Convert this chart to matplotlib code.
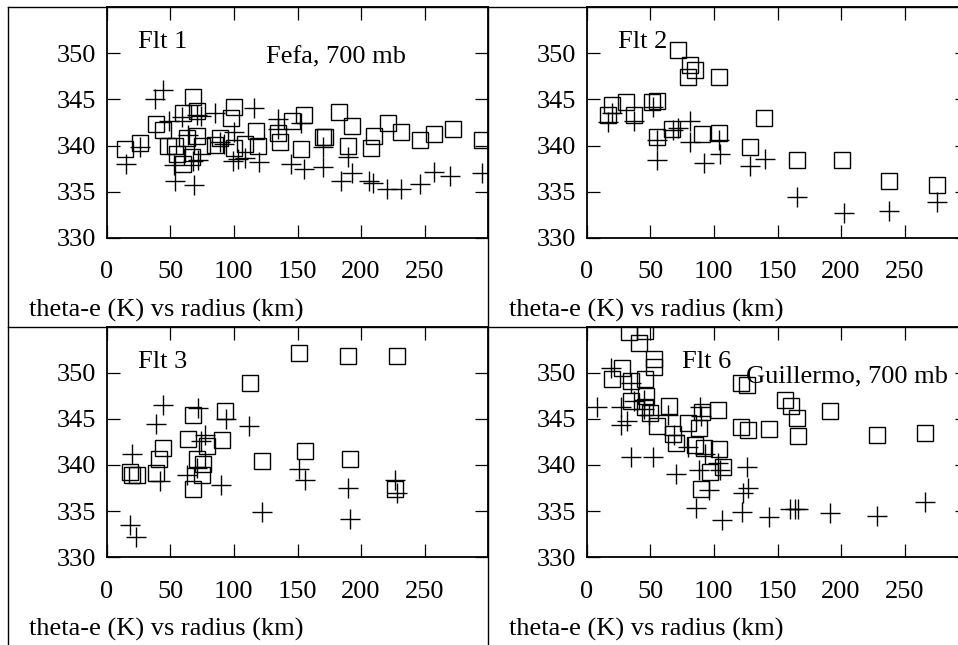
import matplotlib
matplotlib.use("Agg")
import matplotlib.pyplot as plt
from matplotlib.lines import Line2D

plt.rcParams["font.family"] = ["Liberation Serif", "DejaVu Serif"]

# theta-e (K) vs radius (km); "sq" = square markers, "pl" = plus markers
flt1_sq_r = [14, 26, 39, 44, 48, 54, 55, 60, 60, 68, 63, 67, 71, 71, 75, 85, 89, 100, 98, 100,
             109, 117, 119, 135, 136, 146, 155, 153, 170, 172, 183, 193, 190, 208, 210, 221,
             231, 246, 257, 272, 295]
flt1_sq_te = [339.6, 340.3, 342.3, 341.7, 340.0, 340.0, 339.1, 338.0, 343.5, 345.3, 340.8, 338.8,
              343.8, 341.0, 340.0, 340.1, 340.8, 344.2, 343.0, 339.7, 340.2, 341.6, 340.0, 341.4,
              340.4, 342.7, 343.3, 339.6, 340.9, 340.9, 343.6, 342.1, 340.0, 339.7, 341.0, 342.4,
              341.5, 340.6, 341.2, 341.8, 340.6]
flt1_pl_r = [15, 26, 38, 44, 54, 53, 49, 59, 71, 74, 69, 68, 72, 85, 89, 100, 99, 103, 109, 116,
             120, 135, 135, 145, 153, 155, 170, 170, 184, 190, 193, 206, 209, 220, 231, 246,
             257, 270, 295, 64, 92]
flt1_pl_te = [338.0, 339.8, 345.1, 346.0, 336.1, 337.9, 342.7, 343.1, 343.3, 343.2, 335.7, 338.3,
              338.4, 343.5, 340.4, 341.5, 338.3, 338.5, 338.7, 344.1, 338.2, 342.9, 341.8, 338.0,
              342.4, 337.5, 339.8, 337.7, 336.2, 338.8, 337.0, 336.2, 335.9, 335.3, 335.3, 335.8,
              337.1, 336.7, 337.0, 341.1, 340.2]

flt2_sq_r = [72, 81, 85, 80, 104, 20, 17, 31, 37, 51, 55, 55, 67, 91, 104, 128, 139, 165, 201, 238, 275]
flt2_sq_te = [350.4, 348.7, 348.2, 347.4, 347.4, 344.4, 343.3, 344.7, 343.3, 344.7, 344.8, 340.9,
              341.8, 341.3, 341.4, 339.8, 343.0, 338.4, 338.4, 336.1, 335.7]
flt2_pl_r = [17, 20, 37, 52, 55, 55, 68, 72, 81, 81, 92, 105, 104, 128, 140, 165, 202, 238, 275]
flt2_pl_te = [342.6, 343.5, 342.7, 344.2, 338.4, 340.6, 341.7, 341.9, 342.7, 340.4, 338.1, 339.1,
              340.6, 337.8, 338.5, 334.4, 332.7, 332.9, 333.9]

flt3_sq_r = [151, 190, 228, 113, 93, 68, 64, 91, 44, 41, 79, 71, 76, 75, 68, 39, 18, 20, 24, 122,
             156, 191, 227]
flt3_sq_te = [352.2, 351.8, 351.8, 348.9, 345.9, 345.4, 342.8, 342.7, 341.8, 340.6, 342.1, 340.6,
              340.1, 338.9, 337.4, 339.1, 339.2, 338.9, 338.9, 340.4, 341.5, 340.6, 337.4]
flt3_pl_r = [44, 39, 20, 42, 18, 23, 72, 77, 63, 71, 90, 94, 112, 122, 151, 156, 190, 191, 227, 228, 74]
flt3_pl_te = [346.5, 344.4, 341.2, 338.3, 333.5, 332.2, 346.2, 343.3, 338.9, 339.7, 337.8, 345.0,
              344.2, 334.9, 339.6, 338.4, 337.5, 334.1, 338.4, 337.0, 342.6]

flt6_sq_r = [33, 46, 41, 53, 53, 28, 20, 35, 46, 35, 47, 46, 50, 55, 65, 68, 70, 80, 88, 91,
             85, 92, 103, 104, 107, 97, 90, 121, 126, 121, 127, 143, 156, 161, 165, 166, 191, 228, 266]
flt6_sq_te = [354.4, 354.5, 353.2, 351.5, 350.6, 350.5, 349.3, 349.1, 349.3, 346.9, 347.5, 346.3,
              345.6, 344.2, 346.4, 343.4, 342.4, 344.5, 344.0, 345.7, 342.2, 341.8, 346.0, 341.7,
              339.8, 339.2, 337.4, 348.9, 348.7, 344.1, 343.8, 343.9, 347.1, 346.4, 345.1, 343.1,
              345.9, 343.3, 343.5]
flt6_pl_r = [8, 19, 27, 27, 35, 35, 37, 52, 45, 45, 49, 64, 70, 69, 80, 89, 90, 88, 86, 93,
             96, 103, 105, 106, 122, 126, 123, 127, 143, 160, 164, 166, 191, 228, 266, 32]
flt6_pl_te = [346.3, 350.5, 346.3, 344.3, 348.9, 340.9, 346.9, 340.9, 347.0, 346.1, 345.4, 345.4,
              339.0, 343.2, 342.0, 346.3, 345.3, 339.5, 335.3, 341.2, 337.3, 340.2, 339.4, 334.0,
              334.9, 339.8, 337.0, 337.5, 334.4, 335.2, 335.2, 335.2, 334.8, 334.5, 336.0, 344.8]

x_ticks = [0, 50, 100, 150, 200, 250]
y_ticks = [330, 335, 340, 345, 350]
x_label = "theta-e (K) vs radius (km)"

panels = [
    ("Flt 1", 24.6, "Fefa, 700 mb", (flt1_sq_r, flt1_sq_te), (flt1_pl_r, flt1_pl_te)),
    ("Flt 2", 24.6, None, (flt2_sq_r, flt2_sq_te), (flt2_pl_r, flt2_pl_te)),
    ("Flt 3", 24.6, None, (flt3_sq_r, flt3_sq_te), (flt3_pl_r, flt3_pl_te)),
    ("Flt 6", 74.7, "Guillermo, 700 mb", (flt6_sq_r, flt6_sq_te), (flt6_pl_r, flt6_pl_te)),
]

W, H = 958, 645
fig = plt.figure(figsize=(W / 100, H / 100), dpi=100)

# axes boxes in pixels: (left, top), each 381.6 x 230.4
origins = [(106.7, 7.3), (586.7, 7.3), (106.7, 326.7), (586.7, 326.7)]
aw, ah = 381.6, 230.4
fs = 19

for (name, name_x, storm, sq, pl), (px, py) in zip(panels, origins):
    ax = fig.add_axes([px / W, 1 - (py + ah) / H, aw / W, ah / H])
    ax.plot(sq[0], sq[1], ls="none", marker="s", ms=11, mfc="none", mec="black", mew=1.0)
    ax.plot(pl[0], pl[1], ls="none", marker="+", ms=14.5, color="black", mew=1.0)
    ax.set_xlim(0, 300)
    ax.set_ylim(330, 355)
    ax.set_xticks(x_ticks)
    ax.set_yticks(y_ticks)
    ax.tick_params(direction="in", length=9.4, width=0.9, top=True, right=True,
                   labelsize=fs, colors="black")
    ax.tick_params(axis="x", pad=17)
    ax.tick_params(axis="y", pad=8)
    for s in ax.spines.values():
        s.set_linewidth(1.3)
    ax.set_xlabel(x_label, fontsize=fs, ha="left", va="center")
    ax.xaxis.set_label_coords(-0.2036, -0.314)
    ax.text(name_x, 351.2, name, fontsize=fs, ha="left", va="center")
    if storm:
        ax.text(125, 349.6, storm, fontsize=fs, ha="left", va="center")

# outer frame and dividers
frame = dict(color="black", lw=1.0, transform=fig.transFigure)
fig.add_artist(Line2D([8 / W, 8 / W], [0, 1 - 7.3 / H], **frame))
fig.add_artist(Line2D([8 / W, 1], [1 - 7.3 / H, 1 - 7.3 / H], **frame))
fig.add_artist(Line2D([488.3 / W, 488.3 / W], [0, 1 - 7.3 / H], **frame))
fig.add_artist(Line2D([8 / W, 1], [1 - 326.7 / H, 1 - 326.7 / H], **frame))

fig.savefig("out.png", dpi=100)
